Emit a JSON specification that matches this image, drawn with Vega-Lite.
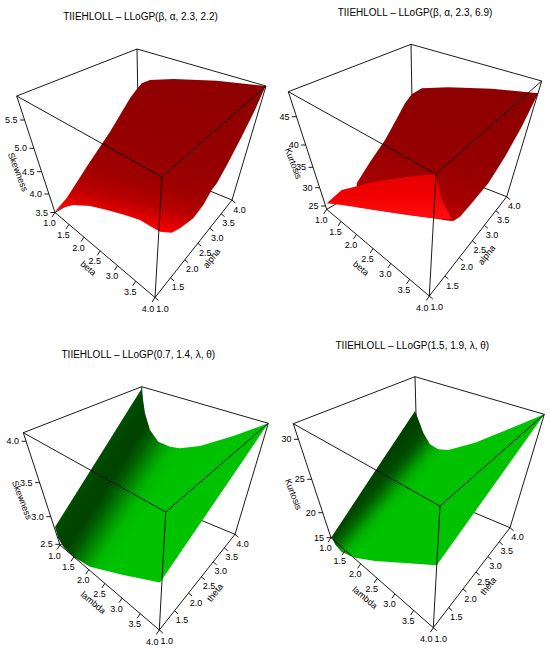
{
"$schema": "https://vega.github.io/schema/vega-lite/v6.json",
"width": 550, "height": 652, "padding": 0, "autosize": {"type": "none"},
"background": "white",
"config": {"view": {"stroke": null}, "text": {"font": "Liberation Sans", "fontSize": 9, "color": "#000"}},
"datasets": {
"edges": [
{"x":137,"y":49,"x2":16.7,"y2":96,"part":"back"},
{"x":137,"y":49,"x2":266,"y2":86,"part":"back"},
{"x":137,"y":49,"x2":139,"y2":162,"part":"back"},
{"x":139,"y":162,"x2":55,"y2":212.5,"part":"back"},
{"x":139,"y":162,"x2":232,"y2":200,"part":"back"},
{"x":16.7,"y":96,"x2":162,"y2":177,"part":"front"},
{"x":162,"y":177,"x2":266,"y2":86,"part":"front"},
{"x":162,"y":177,"x2":155,"y2":297.5,"part":"front"},
{"x":16.7,"y":96,"x2":55,"y2":212.5,"part":"front"},
{"x":266,"y":86,"x2":232,"y2":200,"part":"front"},
{"x":55,"y":212.5,"x2":155,"y2":297.5,"part":"front"},
{"x":155,"y":297.5,"x2":232,"y2":200,"part":"front"},
{"x":411,"y":44.3,"x2":288.3,"y2":91.7,"part":"back"},
{"x":411,"y":44.3,"x2":541.7,"y2":81,"part":"back"},
{"x":411,"y":44.3,"x2":413,"y2":160,"part":"back"},
{"x":413,"y":160,"x2":326.7,"y2":209.3,"part":"back"},
{"x":413,"y":160,"x2":506.7,"y2":196.7,"part":"back"},
{"x":288.3,"y":91.7,"x2":436,"y2":174,"part":"front"},
{"x":436,"y":174,"x2":541.7,"y2":81,"part":"front"},
{"x":436,"y":174,"x2":429.3,"y2":296,"part":"front"},
{"x":288.3,"y":91.7,"x2":326.7,"y2":209.3,"part":"front"},
{"x":541.7,"y":81,"x2":506.7,"y2":196.7,"part":"front"},
{"x":326.7,"y":209.3,"x2":429.3,"y2":296,"part":"front"},
{"x":429.3,"y":296,"x2":506.7,"y2":196.7,"part":"front"},
{"x":141.7,"y":386.7,"x2":23.3,"y2":432.7,"part":"back"},
{"x":141.7,"y":386.7,"x2":268.3,"y2":423.3,"part":"back"},
{"x":141.7,"y":386.7,"x2":145,"y2":497,"part":"back"},
{"x":145,"y":497,"x2":60,"y2":545,"part":"back"},
{"x":145,"y":497,"x2":235,"y2":534.3,"part":"back"},
{"x":23.3,"y":432.7,"x2":165.7,"y2":512,"part":"front"},
{"x":165.7,"y":512,"x2":268.3,"y2":423.3,"part":"front"},
{"x":165.7,"y":512,"x2":159.3,"y2":630,"part":"front"},
{"x":23.3,"y":432.7,"x2":60,"y2":545,"part":"front"},
{"x":268.3,"y":423.3,"x2":235,"y2":534.3,"part":"front"},
{"x":60,"y":545,"x2":159.3,"y2":630,"part":"front"},
{"x":159.3,"y":630,"x2":235,"y2":534.3,"part":"front"},
{"x":415,"y":376.7,"x2":293.3,"y2":423.7,"part":"back"},
{"x":415,"y":376.7,"x2":544.3,"y2":414.3,"part":"back"},
{"x":415,"y":376.7,"x2":418,"y2":489,"part":"back"},
{"x":418,"y":489,"x2":331,"y2":537.7,"part":"back"},
{"x":418,"y":489,"x2":510,"y2":527.7,"part":"back"},
{"x":293.3,"y":423.7,"x2":440,"y2":506,"part":"front"},
{"x":440,"y":506,"x2":544.3,"y2":414.3,"part":"front"},
{"x":440,"y":506,"x2":433.3,"y2":627.7,"part":"front"},
{"x":293.3,"y":423.7,"x2":331,"y2":537.7,"part":"front"},
{"x":544.3,"y":414.3,"x2":510,"y2":527.7,"part":"front"},
{"x":331,"y":537.7,"x2":433.3,"y2":627.7,"part":"front"},
{"x":433.3,"y":627.7,"x2":510,"y2":527.7,"part":"front"},
{"x":20.1,"y":120,"x2":24.6,"y2":120,"part":"tick"},
{"x":29.4,"y":148.3,"x2":33.9,"y2":148.3,"part":"tick"},
{"x":37.1,"y":171.7,"x2":41.6,"y2":171.7,"part":"tick"},
{"x":44.4,"y":194,"x2":48.9,"y2":194,"part":"tick"},
{"x":50.5,"y":212.5,"x2":55,"y2":212.5,"part":"tick"},
{"x":55,"y":212.5,"x2":52,"y2":217,"part":"tick"},
{"x":69,"y":224.4,"x2":66,"y2":228.9,"part":"tick"},
{"x":84,"y":237.2,"x2":81,"y2":241.7,"part":"tick"},
{"x":100.2,"y":250.9,"x2":97.2,"y2":255.4,"part":"tick"},
{"x":117.5,"y":265.6,"x2":114.5,"y2":270.1,"part":"tick"},
{"x":135.8,"y":281.2,"x2":132.8,"y2":285.7,"part":"tick"},
{"x":155,"y":297.5,"x2":152,"y2":302,"part":"tick"},
{"x":155,"y":297.5,"x2":158.5,"y2":300.5,"part":"tick"},
{"x":170.5,"y":277.9,"x2":174,"y2":280.9,"part":"tick"},
{"x":184.8,"y":259.8,"x2":188.3,"y2":262.8,"part":"tick"},
{"x":197.8,"y":243.3,"x2":201.3,"y2":246.3,"part":"tick"},
{"x":209.8,"y":228.1,"x2":213.3,"y2":231.1,"part":"tick"},
{"x":221.1,"y":213.7,"x2":224.6,"y2":216.7,"part":"tick"},
{"x":232,"y":200,"x2":235.5,"y2":203,"part":"tick"},
{"x":292,"y":116.7,"x2":296.5,"y2":116.7,"part":"tick"},
{"x":301.2,"y":145,"x2":305.7,"y2":145,"part":"tick"},
{"x":308.5,"y":167.3,"x2":313,"y2":167.3,"part":"tick"},
{"x":315.1,"y":187.7,"x2":319.6,"y2":187.7,"part":"tick"},
{"x":321.1,"y":206,"x2":325.6,"y2":206,"part":"tick"},
{"x":326.7,"y":209.3,"x2":323.7,"y2":213.8,"part":"tick"},
{"x":341.1,"y":221.4,"x2":338.1,"y2":225.9,"part":"tick"},
{"x":356.5,"y":234.4,"x2":353.5,"y2":238.9,"part":"tick"},
{"x":373.1,"y":248.5,"x2":370.1,"y2":253,"part":"tick"},
{"x":390.8,"y":263.5,"x2":387.8,"y2":268,"part":"tick"},
{"x":409.6,"y":279.4,"x2":406.6,"y2":283.9,"part":"tick"},
{"x":429.3,"y":296,"x2":426.3,"y2":300.5,"part":"tick"},
{"x":429.3,"y":296,"x2":432.8,"y2":299,"part":"tick"},
{"x":444.9,"y":276,"x2":448.4,"y2":279,"part":"tick"},
{"x":459.3,"y":257.6,"x2":462.8,"y2":260.6,"part":"tick"},
{"x":472.3,"y":240.8,"x2":475.8,"y2":243.8,"part":"tick"},
{"x":484.4,"y":225.3,"x2":487.9,"y2":228.3,"part":"tick"},
{"x":495.8,"y":210.7,"x2":499.3,"y2":213.7,"part":"tick"},
{"x":506.7,"y":196.7,"x2":510.2,"y2":199.7,"part":"tick"},
{"x":21.6,"y":441.3,"x2":26.1,"y2":441.3,"part":"tick"},
{"x":35.1,"y":482.7,"x2":39.6,"y2":482.7,"part":"tick"},
{"x":46.3,"y":516.7,"x2":50.8,"y2":516.7,"part":"tick"},
{"x":55.3,"y":544.3,"x2":59.8,"y2":544.3,"part":"tick"},
{"x":60,"y":545,"x2":57,"y2":549.5,"part":"tick"},
{"x":73.9,"y":556.9,"x2":70.9,"y2":561.4,"part":"tick"},
{"x":88.8,"y":569.7,"x2":85.8,"y2":574.2,"part":"tick"},
{"x":104.9,"y":583.4,"x2":101.9,"y2":587.9,"part":"tick"},
{"x":122.1,"y":598.1,"x2":119.1,"y2":602.6,"part":"tick"},
{"x":140.2,"y":613.7,"x2":137.2,"y2":618.2,"part":"tick"},
{"x":159.3,"y":630,"x2":156.3,"y2":634.5,"part":"tick"},
{"x":159.3,"y":630,"x2":162.8,"y2":633,"part":"tick"},
{"x":174.5,"y":610.8,"x2":178,"y2":613.8,"part":"tick"},
{"x":188.6,"y":593,"x2":192.1,"y2":596,"part":"tick"},
{"x":201.4,"y":576.8,"x2":204.9,"y2":579.8,"part":"tick"},
{"x":213.2,"y":561.9,"x2":216.7,"y2":564.9,"part":"tick"},
{"x":224.3,"y":547.8,"x2":227.8,"y2":550.8,"part":"tick"},
{"x":235,"y":534.3,"x2":238.5,"y2":537.3,"part":"tick"},
{"x":294,"y":439.3,"x2":298.5,"y2":439.3,"part":"tick"},
{"x":307.2,"y":479.3,"x2":311.7,"y2":479.3,"part":"tick"},
{"x":318.2,"y":512.7,"x2":322.7,"y2":512.7,"part":"tick"},
{"x":326.5,"y":537.7,"x2":331,"y2":537.7,"part":"tick"},
{"x":331,"y":537.7,"x2":328,"y2":542.2,"part":"tick"},
{"x":345.3,"y":550.3,"x2":342.3,"y2":554.8,"part":"tick"},
{"x":360.7,"y":563.8,"x2":357.7,"y2":568.3,"part":"tick"},
{"x":377.2,"y":578.4,"x2":374.2,"y2":582.9,"part":"tick"},
{"x":394.9,"y":593.9,"x2":391.9,"y2":598.4,"part":"tick"},
{"x":413.7,"y":610.4,"x2":410.7,"y2":614.9,"part":"tick"},
{"x":433.3,"y":627.7,"x2":430.3,"y2":632.2,"part":"tick"},
{"x":433.3,"y":627.7,"x2":436.8,"y2":630.7,"part":"tick"},
{"x":448.7,"y":607.6,"x2":452.2,"y2":610.6,"part":"tick"},
{"x":463,"y":589,"x2":466.5,"y2":592,"part":"tick"},
{"x":476,"y":572.1,"x2":479.5,"y2":575.1,"part":"tick"},
{"x":487.9,"y":556.5,"x2":491.4,"y2":559.5,"part":"tick"},
{"x":499.2,"y":541.8,"x2":502.7,"y2":544.8,"part":"tick"},
{"x":510,"y":527.7,"x2":513.5,"y2":530.7,"part":"tick"}
],
"surf": [
{"poly":"s1","i":1,"x":55,"y":211.5},{"poly":"s1","i":2,"x":66.7,"y":198},{"poly":"s1","i":3,"x":86.7,"y":166.7},{"poly":"s1","i":4,"x":110,"y":131.7},{"poly":"s1","i":5,"x":130,"y":98.3},{"poly":"s1","i":6,"x":136.7,"y":89.3},{"poly":"s1","i":7,"x":141.7,"y":83.3},{"poly":"s1","i":8,"x":150,"y":80},{"poly":"s1","i":9,"x":173.3,"y":79},{"poly":"s1","i":10,"x":216.7,"y":80.7},{"poly":"s1","i":11,"x":265.7,"y":86},{"poly":"s1","i":12,"x":254,"y":112},{"poly":"s1","i":13,"x":241,"y":138},{"poly":"s1","i":14,"x":228,"y":163},{"poly":"s1","i":15,"x":217,"y":183},{"poly":"s1","i":16,"x":211.7,"y":190},{"poly":"s1","i":17,"x":203.3,"y":205},{"poly":"s1","i":18,"x":193.3,"y":218.3},{"poly":"s1","i":19,"x":180,"y":228.3},{"poly":"s1","i":20,"x":171.7,"y":232.7},{"poly":"s1","i":21,"x":160,"y":231.7},{"poly":"s1","i":22,"x":150,"y":226},{"poly":"s1","i":23,"x":140,"y":220},{"poly":"s1","i":24,"x":125,"y":215},{"poly":"s1","i":25,"x":107,"y":210},{"poly":"s1","i":26,"x":90,"y":206},{"poly":"s1","i":27,"x":73,"y":205},{"poly":"s1","i":28,"x":62,"y":208},
{"poly":"s2d","i":1,"x":356.7,"y":183.3},{"poly":"s2d","i":2,"x":370,"y":162},{"poly":"s2d","i":3,"x":385,"y":140},{"poly":"s2d","i":4,"x":396,"y":120},{"poly":"s2d","i":5,"x":405,"y":103.3},{"poly":"s2d","i":6,"x":411.7,"y":94.3},{"poly":"s2d","i":7,"x":421.7,"y":88.3},{"poly":"s2d","i":8,"x":448.3,"y":87.3},{"poly":"s2d","i":9,"x":491.7,"y":88.7},{"poly":"s2d","i":10,"x":538.3,"y":93.3},{"poly":"s2d","i":11,"x":521.7,"y":126.7},{"poly":"s2d","i":12,"x":505,"y":156.7},{"poly":"s2d","i":13,"x":488.3,"y":183.3},{"poly":"s2d","i":14,"x":471.7,"y":203.3},{"poly":"s2d","i":15,"x":460,"y":216.7},{"poly":"s2d","i":16,"x":453.3,"y":221},{"poly":"s2d","i":17,"x":446.7,"y":220.5},{"poly":"s2d","i":18,"x":435,"y":218.5},{"poly":"s2d","i":19,"x":408.3,"y":215},{"poly":"s2d","i":20,"x":375,"y":210},{"poly":"s2d","i":21,"x":356.7,"y":207},
{"poly":"s2b","i":1,"x":326.7,"y":203.3},{"poly":"s2b","i":2,"x":341.7,"y":190},{"poly":"s2b","i":3,"x":375,"y":181.7},{"poly":"s2b","i":4,"x":408.3,"y":176.7},{"poly":"s2b","i":5,"x":436,"y":174},{"poly":"s2b","i":6,"x":438.3,"y":186.7},{"poly":"s2b","i":7,"x":443.3,"y":203.3},{"poly":"s2b","i":8,"x":451.7,"y":218.8},{"poly":"s2b","i":9,"x":435,"y":218.5},{"poly":"s2b","i":10,"x":408.3,"y":215},{"poly":"s2b","i":11,"x":375,"y":210},{"poly":"s2b","i":12,"x":341.7,"y":205},
{"poly":"s3","i":1,"x":141.5,"y":389},{"poly":"s3","i":2,"x":120,"y":423.3},{"poly":"s3","i":3,"x":98,"y":458.4},{"poly":"s3","i":4,"x":76,"y":493.5},{"poly":"s3","i":5,"x":55,"y":527},{"poly":"s3","i":6,"x":58.3,"y":538.3},{"poly":"s3","i":7,"x":63.3,"y":546.7},{"poly":"s3","i":8,"x":73.3,"y":556.7},{"poly":"s3","i":9,"x":90,"y":566.7},{"poly":"s3","i":10,"x":123.3,"y":575},{"poly":"s3","i":11,"x":160,"y":582.5},{"poly":"s3","i":12,"x":268.3,"y":423.3},{"poly":"s3","i":13,"x":233.3,"y":436},{"poly":"s3","i":14,"x":200,"y":446},{"poly":"s3","i":15,"x":180,"y":448.3},{"poly":"s3","i":16,"x":170,"y":446.7},{"poly":"s3","i":17,"x":158.3,"y":441.7},{"poly":"s3","i":18,"x":150,"y":430},{"poly":"s3","i":19,"x":145,"y":413.3},
{"poly":"s4","i":1,"x":415,"y":411},{"poly":"s4","i":2,"x":373.3,"y":473.8},{"poly":"s4","i":3,"x":331.7,"y":536.7},{"poly":"s4","i":4,"x":335,"y":544.3},{"poly":"s4","i":5,"x":341.7,"y":552},{"poly":"s4","i":6,"x":355,"y":557.7},{"poly":"s4","i":7,"x":375,"y":561},{"poly":"s4","i":8,"x":408.3,"y":563.3},{"poly":"s4","i":9,"x":436.7,"y":565.3},{"poly":"s4","i":10,"x":544.3,"y":414.3},{"poly":"s4","i":11,"x":508.3,"y":429.3},{"poly":"s4","i":12,"x":475,"y":442.7},{"poly":"s4","i":13,"x":448.3,"y":450},{"poly":"s4","i":14,"x":438.3,"y":449.3},{"poly":"s4","i":15,"x":430,"y":444.3},{"poly":"s4","i":16,"x":423.3,"y":432.7},{"poly":"s4","i":17,"x":418.3,"y":419.3}
],
"txt": [
{"x":17.6,"y":120,"label":"5.5","kind":"z"},{"x":26.9,"y":148.3,"label":"5.0","kind":"z"},{"x":34.6,"y":171.7,"label":"4.5","kind":"z"},{"x":41.9,"y":194,"label":"4.0","kind":"z"},{"x":48,"y":212.5,"label":"3.5","kind":"z"},
{"x":49.5,"y":223,"label":"1.0","kind":"t"},{"x":63.5,"y":234.9,"label":"1.5","kind":"t"},{"x":78.5,"y":247.7,"label":"2.0","kind":"t"},{"x":94.7,"y":261.4,"label":"2.5","kind":"t"},{"x":112,"y":276.1,"label":"3.0","kind":"t"},{"x":130.3,"y":291.7,"label":"3.5","kind":"t"},{"x":148,"y":309,"label":"4.0","kind":"t"},
{"x":162.5,"y":308.5,"label":"1.0","kind":"t"},{"x":178,"y":287.4,"label":"1.5","kind":"t"},{"x":192.3,"y":269.3,"label":"2.0","kind":"t"},{"x":205.3,"y":252.8,"label":"2.5","kind":"t"},{"x":217.3,"y":237.6,"label":"3.0","kind":"t"},{"x":228.6,"y":223.2,"label":"3.5","kind":"t"},{"x":239.5,"y":209.5,"label":"4.0","kind":"t"},
{"x":289.5,"y":116.7,"label":"45","kind":"z"},{"x":298.7,"y":145,"label":"40","kind":"z"},{"x":306,"y":167.3,"label":"35","kind":"z"},{"x":312.6,"y":187.7,"label":"30","kind":"z"},{"x":318.6,"y":206,"label":"25","kind":"z"},
{"x":321.2,"y":219.8,"label":"1.0","kind":"t"},{"x":335.6,"y":231.9,"label":"1.5","kind":"t"},{"x":351,"y":244.9,"label":"2.0","kind":"t"},{"x":367.6,"y":259,"label":"2.5","kind":"t"},{"x":385.3,"y":274,"label":"3.0","kind":"t"},{"x":404.1,"y":289.9,"label":"3.5","kind":"t"},{"x":422.3,"y":307.5,"label":"4.0","kind":"t"},
{"x":436.8,"y":307,"label":"1.0","kind":"t"},{"x":452.4,"y":285.5,"label":"1.5","kind":"t"},{"x":466.8,"y":267.1,"label":"2.0","kind":"t"},{"x":479.8,"y":250.3,"label":"2.5","kind":"t"},{"x":491.9,"y":234.8,"label":"3.0","kind":"t"},{"x":503.3,"y":220.2,"label":"3.5","kind":"t"},{"x":514.2,"y":206.2,"label":"4.0","kind":"t"},
{"x":19.1,"y":441.3,"label":"4.0","kind":"z"},{"x":32.6,"y":482.7,"label":"3.5","kind":"z"},{"x":43.8,"y":516.7,"label":"3.0","kind":"z"},{"x":52.8,"y":544.3,"label":"2.5","kind":"z"},
{"x":54.5,"y":555.5,"label":"1.0","kind":"t"},{"x":68.4,"y":567.4,"label":"1.5","kind":"t"},{"x":83.3,"y":580.2,"label":"2.0","kind":"t"},{"x":99.4,"y":593.9,"label":"2.5","kind":"t"},{"x":116.6,"y":608.6,"label":"3.0","kind":"t"},{"x":134.7,"y":624.2,"label":"3.5","kind":"t"},{"x":152.3,"y":641.5,"label":"4.0","kind":"t"},
{"x":166.8,"y":641,"label":"1.0","kind":"t"},{"x":182,"y":620.3,"label":"1.5","kind":"t"},{"x":196.1,"y":602.5,"label":"2.0","kind":"t"},{"x":208.9,"y":586.3,"label":"2.5","kind":"t"},{"x":220.7,"y":571.4,"label":"3.0","kind":"t"},{"x":231.8,"y":557.3,"label":"3.5","kind":"t"},{"x":242.5,"y":543.8,"label":"4.0","kind":"t"},
{"x":291.5,"y":439.3,"label":"30","kind":"z"},{"x":304.7,"y":479.3,"label":"25","kind":"z"},{"x":315.7,"y":512.7,"label":"20","kind":"z"},{"x":324,"y":537.7,"label":"15","kind":"z"},
{"x":325.5,"y":548.2,"label":"1.0","kind":"t"},{"x":339.8,"y":560.8,"label":"1.5","kind":"t"},{"x":355.2,"y":574.3,"label":"2.0","kind":"t"},{"x":371.7,"y":588.9,"label":"2.5","kind":"t"},{"x":389.4,"y":604.4,"label":"3.0","kind":"t"},{"x":408.2,"y":620.9,"label":"3.5","kind":"t"},{"x":426.3,"y":639.2,"label":"4.0","kind":"t"},
{"x":440.8,"y":638.7,"label":"1.0","kind":"t"},{"x":456.2,"y":617.1,"label":"1.5","kind":"t"},{"x":470.5,"y":598.5,"label":"2.0","kind":"t"},{"x":483.5,"y":581.6,"label":"2.5","kind":"t"},{"x":495.4,"y":566,"label":"3.0","kind":"t"},{"x":506.7,"y":551.3,"label":"3.5","kind":"t"},{"x":517.5,"y":537.2,"label":"4.0","kind":"t"},
{"x":18,"y":172,"label":"Skewness","kind":"az"},{"x":293.3,"y":163.3,"label":"Kurtosis","kind":"az"},{"x":22,"y":500,"label":"Skewness","kind":"az"},{"x":293.3,"y":494.3,"label":"Kurtosis","kind":"az"},
{"x":88.3,"y":268.3,"label":"beta","kind":"ab"},{"x":361,"y":268.3,"label":"beta","kind":"ab"},{"x":93.3,"y":602.7,"label":"lambda","kind":"ab"},{"x":365,"y":597.7,"label":"lambda","kind":"ab"},
{"x":211.7,"y":258.3,"label":"alpha","kind":"aa"},{"x":486.7,"y":255,"label":"alpha","kind":"aa"},{"x":215,"y":592.7,"label":"theta","kind":"aa"},{"x":488.3,"y":586,"label":"theta","kind":"aa"},
{"x":140.5,"y":17.3,"label":"TIIEHLOLL – LLoGP(β, α, 2.3, 2.2)","kind":"title"},
{"x":415,"y":13.3,"label":"TIIEHLOLL – LLoGP(β, α, 2.3, 6.9)","kind":"title"},
{"x":138.3,"y":355.3,"label":"TIIEHLOLL – LLoGP(0.7, 1.4, λ, θ)","kind":"title"},
{"x":412.3,"y":346,"label":"TIIEHLOLL – LLoGP(1.5, 1.9, λ, θ)","kind":"title"}
]
},
"encoding": {
"x": {"field": "x", "type": "quantitative", "scale": {"domain": [0, 550], "nice": false, "zero": false}, "axis": null},
"y": {"field": "y", "type": "quantitative", "scale": {"domain": [0, 652], "reverse": true, "nice": false, "zero": false}, "axis": null}
},
"layer": [
{"data": {"name": "edges"}, "transform": [{"filter": "datum.part == 'back'"}], "mark": {"type": "rule", "color": "#000", "strokeWidth": 0.9}, "encoding": {"x2": {"field": "x2"}, "y2": {"field": "y2"}}},
{"data": {"name": "surf"}, "transform": [{"filter": "datum.poly == 's1'"}], "mark": {"type": "line", "strokeWidth": 0, "strokeOpacity": 0, "fill": {"gradient": "linear", "x1": 1, "y1": 0, "x2": 0.597, "y2": 1.2, "stops": [{"offset": 0, "color": "#8e0000"}, {"offset": 0.5, "color": "#960000"}, {"offset": 0.65, "color": "#a00000"}, {"offset": 0.75, "color": "#b80000"}, {"offset": 0.82, "color": "#dd0000"}, {"offset": 0.87, "color": "#ff0000"}, {"offset": 1, "color": "#ff0000"}]}}, "encoding": {"order": {"field": "i", "type": "quantitative"}}},
{"data": {"name": "surf"}, "transform": [{"filter": "datum.poly == 's2d'"}], "mark": {"type": "line", "strokeWidth": 0, "strokeOpacity": 0, "fill": {"gradient": "linear", "x1": 1, "y1": 0, "x2": 0.597, "y2": 1.2, "stops": [{"offset": 0, "color": "#8c0000"}, {"offset": 0.55, "color": "#950000"}, {"offset": 0.75, "color": "#a60000"}, {"offset": 0.87, "color": "#c40000"}, {"offset": 1, "color": "#d00000"}]}}, "encoding": {"order": {"field": "i", "type": "quantitative"}}},
{"data": {"name": "surf"}, "transform": [{"filter": "datum.poly == 's2b'"}], "mark": {"type": "line", "strokeWidth": 0, "strokeOpacity": 0, "fill": {"gradient": "linear", "x1": 0, "y1": 0, "x2": 0, "y2": 1, "stops": [{"offset": 0, "color": "#e60000"}, {"offset": 0.5, "color": "#f20000"}, {"offset": 1, "color": "#ff1010"}]}}, "encoding": {"order": {"field": "i", "type": "quantitative"}}},
{"data": {"name": "surf"}, "transform": [{"filter": "datum.poly == 's3'"}], "mark": {"type": "line", "strokeWidth": 0, "strokeOpacity": 0, "fill": {"gradient": "linear", "x1": 0, "y1": 0, "x2": 1.184, "y2": 0.68, "stops": [{"offset": 0, "color": "#005200"}, {"offset": 0.26, "color": "#004e00"}, {"offset": 0.3, "color": "#004400"}, {"offset": 0.338, "color": "#004400"}, {"offset": 0.37, "color": "#005c00"}, {"offset": 0.4, "color": "#007e00"}, {"offset": 0.43, "color": "#00a000"}, {"offset": 0.455, "color": "#00b800"}, {"offset": 0.5, "color": "#00c200"}, {"offset": 1, "color": "#00c400"}]}}, "encoding": {"order": {"field": "i", "type": "quantitative"}}},
{"data": {"name": "surf"}, "transform": [{"filter": "datum.poly == 's4'"}], "mark": {"type": "line", "strokeWidth": 0, "strokeOpacity": 0, "fill": {"gradient": "linear", "x1": 0, "y1": 0, "x2": 1.17, "y2": 0.726, "stops": [{"offset": 0, "color": "#004400"}, {"offset": 0.24, "color": "#004200"}, {"offset": 0.27, "color": "#004000"}, {"offset": 0.316, "color": "#004a00"}, {"offset": 0.34, "color": "#006200"}, {"offset": 0.36, "color": "#008000"}, {"offset": 0.38, "color": "#00a000"}, {"offset": 0.4, "color": "#00b600"}, {"offset": 0.43, "color": "#00c200"}, {"offset": 1, "color": "#00c400"}]}}, "encoding": {"order": {"field": "i", "type": "quantitative"}}},
{"data": {"name": "edges"}, "transform": [{"filter": "datum.part != 'back'"}], "mark": {"type": "rule", "color": "#000", "strokeWidth": 0.9}, "encoding": {"x2": {"field": "x2"}, "y2": {"field": "y2"}}},
{"data": {"name": "txt"}, "transform": [{"filter": "datum.kind == 'z'"}], "mark": {"type": "text", "align": "right", "baseline": "middle", "fill": "#000"}, "encoding": {"text": {"field": "label"}}},
{"data": {"name": "txt"}, "transform": [{"filter": "datum.kind == 't'"}], "mark": {"type": "text", "align": "center", "baseline": "middle", "fill": "#000"}, "encoding": {"text": {"field": "label"}}},
{"data": {"name": "txt"}, "transform": [{"filter": "datum.kind == 'az'"}], "mark": {"type": "text", "align": "center", "baseline": "middle", "angle": 69, "fill": "#000"}, "encoding": {"text": {"field": "label"}}},
{"data": {"name": "txt"}, "transform": [{"filter": "datum.kind == 'ab'"}], "mark": {"type": "text", "align": "center", "baseline": "middle", "angle": 40, "fill": "#000"}, "encoding": {"text": {"field": "label"}}},
{"data": {"name": "txt"}, "transform": [{"filter": "datum.kind == 'aa'"}], "mark": {"type": "text", "align": "center", "baseline": "middle", "angle": -52, "fill": "#000"}, "encoding": {"text": {"field": "label"}}},
{"data": {"name": "txt"}, "transform": [{"filter": "datum.kind == 'title'"}], "mark": {"type": "text", "align": "center", "baseline": "middle", "fontSize": 10, "fill": "#000"}, "encoding": {"text": {"field": "label"}}}
]
}
